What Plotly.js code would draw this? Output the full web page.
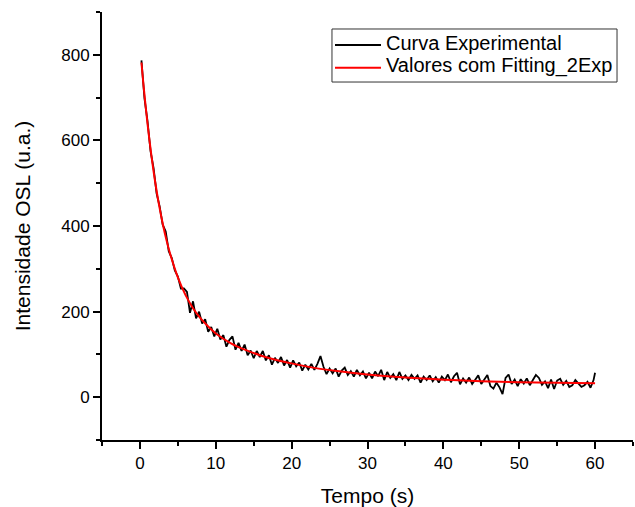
<!DOCTYPE html>
<html>
<head>
<meta charset="utf-8">
<script src="https://cdn.plot.ly/plotly-3.0.1.min.js"></script>
<style>
  html, body { margin: 0; padding: 0; background: #fff; }
  #chart { width: 635px; height: 507px; }
</style>
</head>
<body>
<div id="chart"></div>
<script>
// Experimental OSL decay curve (time in s, intensity in a.u.)
const tExp = [
  0.2,0.6,1.0,1.4,1.8,2.2,2.6,3.0,3.4,3.8,
  4.2,4.6,5.0,5.4,5.8,6.2,6.6,7.0,7.4,7.8,
  8.2,8.6,9.0,9.4,9.8,10.2,10.6,11.0,11.4,11.8,
  12.2,12.6,13.0,13.4,13.8,14.2,14.6,15.0,15.4,15.8,
  16.2,16.6,17.0,17.4,17.8,18.2,18.6,19.0,19.4,19.8,
  20.2,20.6,21.0,21.4,21.8,22.2,22.6,23.0,23.4,23.8,
  24.2,24.6,25.0,25.4,25.8,26.2,26.6,27.0,27.4,27.8,
  28.2,28.6,29.0,29.4,29.8,30.2,30.6,31.0,31.4,31.8,
  32.2,32.6,33.0,33.4,33.8,34.2,34.6,35.0,35.4,35.8,
  36.2,36.6,37.0,37.4,37.8,38.2,38.6,39.0,39.4,39.8,
  40.2,40.6,41.0,41.4,41.8,42.2,42.6,43.0,43.4,43.8,
  44.2,44.6,45.0,45.4,45.8,46.2,46.6,47.0,47.4,47.8,
  48.2,48.6,49.0,49.4,49.8,50.2,50.6,51.0,51.4,51.8,
  52.2,52.6,53.0,53.4,53.8,54.2,54.6,55.0,55.4,55.8,
  56.2,56.6,57.0,57.4,57.8,58.2,58.6,59.0,59.4,59.8,
  60.0
];
const yExp = [
  787,698,645,575,535,476,446,403,387,341,
  325,296,282,254,254,246,197,224,184,200,
  172,182,153,164,142,160,135,145,118,134,
  142,111,127,108,123,98,109,91,108,94,
  108,86,98,76,92,80,94,74,87,69,
  86,72,81,62,76,65,78,64,78,96,
  71,54,67,56,67,48,62,69,52,61,
  48,64,51,60,44,57,44,60,49,64,
  40,59,45,54,40,59,43,51,40,52,
  43,51,34,48,40,51,37,47,34,48,
  40,53,35,49,57,30,44,34,46,31,
  41,51,31,42,52,26,20,34,23,7,
  45,53,31,41,26,42,32,44,28,40,
  52,45,29,37,21,41,19,39,43,29,
  38,24,28,40,32,24,28,36,22,40,
  57
];

// Two-exponential fit curve
const tFit = [0.2,0.5,1,1.5,2,2.5,3,3.5,4,5,6,7,8,9,10,12,14,16,18,20,23,26,30,35,40,45,50,55,60];
const yFit = [782,724,639,566,504,451,406,367,334,280,239,208,184,165,149,126,110,97,87,79,68.5,61,53,46,41,37.5,35,33.6,32.5];

const seriesNames = ["Curva Experimental", "Valores com Fitting_2Exp"];
const seriesColors = ["#000000", "#ff0000"];
const xTitle = "Tempo (s)";
const yTitle = "Intensidade OSL (u.a.)";

const FONT = '"Liberation Sans", Arial, sans-serif';

const traces = [
  {
    x: tExp, y: yExp, type: 'scatter', mode: 'lines',
    name: seriesNames[0],
    line: { color: seriesColors[0], width: 1.8 }
  },
  {
    x: tFit, y: yFit, type: 'scatter', mode: 'lines',
    name: seriesNames[1],
    line: { color: seriesColors[1], width: 2, shape: 'spline' }
  }
];

const axisCommon = {
  showline: true, linecolor: '#000', linewidth: 2,
  ticks: 'outside', ticklen: 7, tickwidth: 2, tickcolor: '#000',
  showgrid: false, zeroline: false, mirror: false,
  tickfont: { family: FONT, size: 17, color: '#000' }
};

// Legend box (Origin style) drawn in paper coordinates
const legBox = { x0: 0.4331, x1: 0.9699, y0: 0.8364, y1: 0.9603 };
const legRows = [0.9229, 0.8699];
const legLine = { x0: 0.4388, x1: 0.5254 };
const legTextX = 0.5320;

const shapes = [
  { type: 'rect', xref: 'paper', yref: 'paper', x0: legBox.x0, x1: legBox.x1, y0: legBox.y0, y1: legBox.y1,
    line: { color: '#333', width: 1 }, fillcolor: '#fff', layer: 'above' }
];
const annotations = [];
seriesNames.forEach((nm, i) => {
  shapes.push({ type: 'line', xref: 'paper', yref: 'paper', x0: legLine.x0, x1: legLine.x1, y0: legRows[i], y1: legRows[i],
    line: { color: seriesColors[i], width: 2 }, layer: 'above' });
  annotations.push({ xref: 'paper', yref: 'paper', x: legTextX, y: legRows[i] + 0.004, xanchor: 'left', yanchor: 'middle',
    text: nm, showarrow: false, font: { family: FONT, size: 20, color: '#000' } });
});

const layout = {
  width: 635, height: 507,
  margin: { l: 102, r: 2, t: 12, b: 67 },
  paper_bgcolor: '#fff', plot_bgcolor: '#fff',
  font: { family: FONT, color: '#000' },
  showlegend: false,
  shapes: shapes,
  annotations: annotations,
  xaxis: Object.assign({}, axisCommon, {
    range: [-5, 65], dtick: 10, tick0: 0,
    minor: { ticks: 'outside', ticklen: 4, tickwidth: 2, tickcolor: '#000', dtick: 5, tick0: 0, showgrid: false },
    title: { text: xTitle, font: { family: FONT, size: 21, color: '#000' }, standoff: 18 }
  }),
  yaxis: Object.assign({}, axisCommon, {
    range: [-100, 900], dtick: 200, tick0: 0,
    minor: { ticks: 'outside', ticklen: 4, tickwidth: 2, tickcolor: '#000', dtick: 100, tick0: 0, showgrid: false },
    title: { text: yTitle, font: { family: FONT, size: 21, color: '#000' }, standoff: 25 }
  })
};

Plotly.newPlot('chart', traces, layout, { displayModeBar: false, staticPlot: true });
</script>
</body>
</html>
